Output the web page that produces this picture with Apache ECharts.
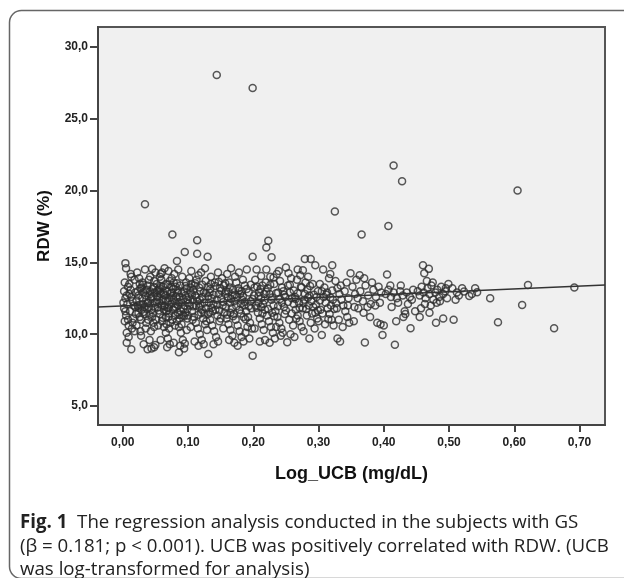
<!DOCTYPE html>
<html>
<head>
<meta charset="utf-8">
<script src="https://cdn.jsdelivr.net/npm/echarts@6/dist/echarts.min.js"></script>
<style>
html,body{margin:0;padding:0;background:#fff;}
#c{width:624px;height:578px;}
</style>
</head>
<body>
<div id="c"></div>
<script>
// Tick values
const xTicks = [0, 0.1, 0.2, 0.3, 0.4, 0.5, 0.6, 0.7];
const yTicks = [5, 10, 15, 20, 25, 30];
const xRange = [-0.038, 0.739];
const yRange = [3.68, 31.39];

// Regression line end points
const fitLine = [[-0.038, 11.90], [0.739, 13.43]];

// Scatter points [Log_UCB, RDW]
const pointsA = [[0.004,14.95],[0.005,14.6],[0.012,14.2],[0.013,14.0],[0.006,10.1],[0.006,9.4],[0.013,8.95],[0.003,13.6],[0.008,13.3],[0.002,13.0],[0.010,12.8],[0.004,12.5],[0.015,12.3],[0.007,12.1],[0.002,11.8],[0.011,11.6],[0.005,11.3],[0.016,11.1],[0.003,10.9],[0.009,10.6],[0.014,10.4],[0.018,13.8],[0.019,12.9],[0.017,12.0],[0.020,11.4],[0.006,12.7],[0.012,13.1],[0.001,12.2],[0.008,11.0],[0.015,10.8],[0.010,13.5],[0.019,11.9],[0.004,11.6],[0.013,12.6],[0.018,10.2],[0.009,9.8]];
const pointsB = [[0.022,14.3],[0.034,14.5],[0.045,14.55],[0.050,14.3],[0.058,14.2],[0.034,19.05],[0.025,13.9],[0.030,13.6],[0.027,13.2],[0.038,13.4],[0.042,13.0],[0.048,13.7],[0.024,12.7],[0.031,12.9],[0.036,12.4],[0.044,12.6],[0.049,12.2],[0.023,12.0],[0.029,11.7],[0.040,11.9],[0.046,11.5],[0.026,11.2],[0.033,11.4],[0.039,11.0],[0.047,10.8],[0.021,10.6],[0.035,10.4],[0.043,10.2],[0.028,9.9],[0.041,9.6],[0.032,9.3],[0.048,9.1],[0.038,8.95],[0.050,9.25],[0.044,9.0],[0.030,12.5],[0.037,13.1],[0.045,11.2],[0.026,13.5],[0.042,12.8],[0.033,11.9],[0.049,12.9],[0.024,11.5],[0.039,12.2],[0.036,10.8],[0.027,10.2],[0.047,13.3],[0.031,12.1],[0.044,11.7],[0.023,13.0],[0.040,13.8],[0.035,12.7],[0.028,11.0],[0.048,10.5],[0.042,14.0]];
const pointsC = [[0.052,13.5],[0.055,13.1],[0.058,12.8],[0.061,12.4],[0.064,12.0],[0.067,11.6],[0.070,11.2],[0.073,10.8],[0.076,16.94],[0.083,15.1],[0.086,8.75],[0.095,15.73],[0.054,11.9],[0.057,11.4],[0.060,10.9],[0.063,10.5],[0.066,10.1],[0.069,9.7],[0.072,9.3],[0.075,13.9],[0.078,13.6],[0.081,13.3],[0.084,12.9],[0.087,12.6],[0.090,12.2],[0.093,11.8],[0.096,11.5],[0.099,11.1],[0.053,12.6],[0.056,12.2],[0.059,13.8],[0.062,13.3],[0.065,12.7],[0.068,13.0],[0.071,12.5],[0.074,12.1],[0.077,11.7],[0.080,11.3],[0.083,10.9],[0.086,10.5],[0.089,10.1],[0.092,9.6],[0.095,9.35],[0.098,10.3],[0.051,11.0],[0.054,10.6],[0.057,14.0],[0.060,14.3],[0.063,11.7],[0.066,13.5],[0.069,12.3],[0.072,13.7],[0.075,12.9],[0.078,12.4],[0.081,11.9],[0.084,11.5],[0.087,11.1],[0.090,10.7],[0.093,13.0],[0.096,12.7],[0.099,12.4],[0.079,14.2],[0.085,14.5],[0.091,14.0],[0.097,13.6],[0.070,14.4],[0.064,14.6],[0.058,9.6],[0.068,9.1],[0.078,9.4],[0.088,9.2],[0.094,9.0],[0.082,12.1],[0.076,11.0],[0.062,12.9],[0.088,13.4],[0.071,10.4],[0.092,11.3],[0.056,13.2],[0.080,10.6],[0.066,11.2],[0.074,13.3],[0.098,13.2],[0.085,12.0],[0.060,12.0],[0.095,12.0],[0.070,11.8],[0.053,12.4],[0.077,12.7],[0.089,11.6],[0.067,10.7]];
const pointsD = [[0.102,13.9],[0.105,13.5],[0.108,13.1],[0.111,12.7],[0.114,12.3],[0.117,11.9],[0.120,11.5],[0.123,11.1],[0.126,10.7],[0.129,10.3],[0.114,16.54],[0.114,15.61],[0.130,15.4],[0.131,8.63],[0.144,28.05],[0.103,12.0],[0.106,11.6],[0.109,11.2],[0.112,10.8],[0.115,10.4],[0.118,10.0],[0.121,9.6],[0.124,9.3],[0.127,13.7],[0.130,13.3],[0.133,12.9],[0.136,12.5],[0.139,12.1],[0.142,11.7],[0.145,11.3],[0.148,10.9],[0.101,12.6],[0.104,12.9],[0.107,12.4],[0.110,13.4],[0.113,13.8],[0.116,14.1],[0.119,13.0],[0.122,12.6],[0.125,12.2],[0.128,11.8],[0.131,11.4],[0.134,11.0],[0.137,10.6],[0.140,10.2],[0.143,9.8],[0.146,9.5],[0.149,13.2],[0.104,10.5],[0.110,9.5],[0.120,14.3],[0.126,14.6],[0.135,14.0],[0.141,13.6],[0.147,12.8],[0.107,11.0],[0.118,12.4],[0.124,12.9],[0.132,12.2],[0.138,11.6],[0.144,12.4],[0.112,12.0],[0.128,10.9],[0.100,11.3],[0.135,13.5],[0.121,11.7],[0.146,14.3],[0.139,9.3],[0.116,9.2],[0.105,14.4]];
const pointsE = [[0.152,13.9],[0.155,13.4],[0.158,13.0],[0.161,12.6],[0.164,12.2],[0.167,11.8],[0.170,11.4],[0.173,11.0],[0.176,10.6],[0.179,10.2],[0.182,9.8],[0.185,9.5],[0.199,15.4],[0.199,8.51],[0.199,27.14],[0.190,14.5],[0.153,12.0],[0.156,11.5],[0.159,11.1],[0.162,10.7],[0.165,10.3],[0.168,9.9],[0.171,9.4],[0.174,13.6],[0.177,13.2],[0.180,12.8],[0.183,12.4],[0.186,12.0],[0.189,11.6],[0.192,11.2],[0.195,10.8],[0.198,10.4],[0.151,12.5],[0.157,12.8],[0.163,13.6],[0.169,13.1],[0.175,12.6],[0.181,12.1],[0.187,13.4],[0.193,12.9],[0.196,12.3],[0.160,14.2],[0.166,14.6],[0.172,14.0],[0.178,14.3],[0.184,13.8],[0.154,10.4],[0.163,9.6],[0.176,9.2],[0.188,10.1],[0.194,9.7],[0.158,11.9],[0.171,12.3],[0.185,11.2],[0.197,11.8],[0.165,11.5],[0.179,11.7],[0.191,10.5],[0.150,11.1],[0.168,12.7],[0.182,13.0]];
const pointsF = [[0.203,13.8],[0.206,13.3],[0.209,12.9],[0.212,12.5],[0.215,12.1],[0.218,11.7],[0.221,11.3],[0.224,10.9],[0.227,10.5],[0.230,10.1],[0.233,9.7],[0.220,16.03],[0.223,16.5],[0.228,15.36],[0.205,14.5],[0.220,14.5],[0.210,9.5],[0.218,9.6],[0.204,12.0],[0.207,11.5],[0.210,11.1],[0.213,10.7],[0.216,10.3],[0.219,13.6],[0.222,13.2],[0.225,12.8],[0.228,12.4],[0.231,12.0],[0.234,11.6],[0.237,11.2],[0.240,10.8],[0.243,10.4],[0.246,13.0],[0.249,12.6],[0.201,12.7],[0.208,12.2],[0.214,13.4],[0.226,14.0],[0.232,13.5],[0.238,12.9],[0.244,12.2],[0.236,14.2],[0.241,13.7],[0.247,11.9],[0.212,11.9],[0.229,11.5],[0.235,10.5],[0.242,9.9],[0.248,11.4],[0.217,12.8],[0.202,10.4],[0.225,9.4],[0.239,14.4],[0.245,10.1]];
const pointsG = [[0.250,14.64],[0.268,14.5],[0.279,15.24],[0.288,15.24],[0.295,14.8],[0.252,9.45],[0.286,9.7],[0.253,13.4],[0.256,12.9],[0.259,12.5],[0.262,12.1],[0.265,11.7],[0.268,11.3],[0.271,10.9],[0.274,10.5],[0.277,10.2],[0.280,13.6],[0.283,13.1],[0.286,12.7],[0.289,12.3],[0.292,11.9],[0.295,11.5],[0.298,11.1],[0.255,11.0],[0.261,10.6],[0.267,13.8],[0.273,13.3],[0.279,12.8],[0.285,12.0],[0.291,13.5],[0.297,12.6],[0.258,13.9],[0.264,12.6],[0.270,12.2],[0.276,11.8],[0.282,11.3],[0.288,10.8],[0.294,10.4],[0.257,10.0],[0.272,14.1],[0.284,14.0],[0.263,9.8],[0.299,13.0],[0.266,11.1],[0.278,12.4]];
const pointsH = [[0.305,9.95],[0.329,9.7],[0.333,9.5],[0.307,14.5],[0.321,14.8],[0.325,18.54],[0.349,14.25],[0.302,13.5],[0.305,13.0],[0.308,12.6],[0.311,12.2],[0.314,11.8],[0.317,11.4],[0.320,11.0],[0.323,10.6],[0.326,13.7],[0.329,13.2],[0.332,12.8],[0.335,12.4],[0.338,12.0],[0.341,11.6],[0.344,11.2],[0.347,10.8],[0.310,10.7],[0.316,13.9],[0.322,12.4],[0.328,11.8],[0.334,13.4],[0.340,13.0],[0.346,12.5],[0.313,12.9],[0.319,12.0],[0.337,10.5],[0.343,13.6],[0.303,11.7],[0.331,11.0],[0.318,14.2],[0.300,10.9],[0.345,12.0]];
const pointsI = [[0.361,11.8],[0.369,11.5],[0.371,9.42],[0.366,16.94],[0.398,9.95],[0.390,10.8],[0.400,10.6],[0.395,10.7],[0.352,13.3],[0.356,12.8],[0.360,12.5],[0.364,13.0],[0.368,12.3],[0.372,13.4],[0.376,12.7],[0.380,12.1],[0.384,13.1],[0.388,12.6],[0.392,13.3],[0.396,12.9],[0.355,11.9],[0.358,13.8],[0.375,11.9],[0.382,13.6],[0.387,12.0],[0.363,14.1],[0.354,10.9],[0.379,11.2],[0.394,12.2],[0.370,13.9]];
const pointsJ = [[0.405,14.15],[0.407,17.54],[0.415,21.74],[0.428,20.65],[0.417,9.26],[0.441,10.42],[0.419,10.9],[0.430,11.2],[0.433,11.4],[0.432,11.6],[0.403,12.8],[0.407,13.1],[0.411,12.6],[0.415,12.9],[0.420,12.5],[0.425,13.0],[0.429,12.7],[0.435,12.9],[0.440,12.6],[0.445,13.1],[0.410,13.4],[0.422,12.2],[0.437,12.1],[0.443,12.4],[0.412,11.9],[0.448,11.6],[0.426,13.4]];
const pointsK = [[0.460,14.8],[0.462,14.25],[0.469,14.55],[0.480,10.8],[0.491,11.1],[0.499,13.5],[0.452,13.0],[0.455,12.7],[0.458,13.3],[0.461,12.9],[0.464,12.5],[0.467,13.2],[0.470,12.8],[0.473,13.4],[0.476,12.4],[0.479,12.9],[0.482,13.1],[0.485,12.6],[0.488,13.3],[0.491,12.8],[0.494,13.0],[0.497,12.5],[0.463,12.1],[0.472,12.0],[0.481,12.2],[0.457,11.8],[0.486,12.3],[0.466,13.7],[0.475,13.6],[0.495,13.2],[0.455,11.2],[0.470,11.5]];
const pointsL = [[0.507,11.0],[0.505,13.2],[0.512,12.9],[0.515,12.7],[0.520,13.2],[0.523,12.97],[0.531,12.67],[0.540,13.2],[0.543,12.92],[0.563,12.5],[0.575,10.84],[0.605,20.0],[0.612,12.04],[0.621,13.43],[0.661,10.42],[0.692,13.25],[0.510,12.4],[0.535,12.8]];
// Dense core of the cloud
const pointsM = [[0.021,12.35],[0.026,12.05],[0.029,13.25],[0.032,11.55],[0.035,13.05],[0.038,12.15],[0.041,11.35],[0.043,12.45],[0.046,13.15],[0.049,11.85],[0.052,12.25],[0.055,11.65],[0.058,13.35],[0.061,11.15],[0.063,12.75],[0.066,12.35],[0.069,13.45],[0.071,11.45],[0.074,12.55],[0.077,13.15],[0.079,11.85],[0.082,12.65],[0.085,13.05],[0.087,11.35],[0.090,12.85],[0.093,12.45],[0.096,13.35],[0.099,11.75],[0.024,11.85],[0.037,11.75],[0.053,13.05],[0.064,11.95],[0.073,12.85],[0.086,12.25],[0.094,11.25],[0.057,12.95],[0.068,11.85],[0.083,13.55],[0.047,12.65],[0.031,13.45]];
const pointsN = [[0.101,12.15],[0.104,13.25],[0.108,11.95],[0.111,13.55],[0.113,12.55],[0.117,13.25],[0.119,12.05],[0.122,13.45],[0.125,11.45],[0.127,12.85],[0.131,12.65],[0.134,13.15],[0.136,11.85],[0.139,12.75],[0.142,13.35],[0.145,12.05],[0.148,11.65],[0.151,13.05],[0.154,12.25],[0.157,13.55],[0.160,11.35],[0.162,12.95],[0.166,12.45],[0.169,11.25],[0.172,12.75],[0.174,11.95],[0.178,13.05],[0.181,11.45],[0.184,12.65],[0.187,12.25],[0.190,13.15],[0.193,11.95],[0.196,13.45],[0.199,12.45],[0.106,12.75],[0.116,11.35],[0.133,11.55],[0.147,13.65],[0.164,13.25],[0.188,11.05]];
const pointsO = [[0.202,13.25],[0.205,11.85],[0.208,12.65],[0.211,13.15],[0.214,11.45],[0.217,12.35],[0.220,12.95],[0.223,11.75],[0.226,13.45],[0.229,12.55],[0.232,11.25],[0.235,12.85],[0.238,11.95],[0.241,12.45],[0.244,13.25],[0.247,12.75],[0.250,11.65],[0.253,12.25],[0.256,13.45],[0.259,11.45],[0.262,13.05],[0.265,12.45],[0.268,12.85],[0.271,11.85],[0.274,13.25],[0.277,12.15],[0.281,11.75],[0.284,12.55],[0.287,13.35],[0.290,11.45],[0.293,12.75],[0.296,12.05],[0.299,11.65],[0.302,12.35],[0.306,11.45],[0.309,13.25],[0.312,12.75],[0.315,11.05],[0.318,12.55],[0.321,13.05],[0.324,11.75],[0.327,12.15],[0.212,14.05],[0.254,14.25],[0.231,13.95],[0.276,14.45]];

const points = [].concat(pointsA, pointsB, pointsC, pointsD, pointsE, pointsF,
  pointsG, pointsH, pointsI, pointsJ, pointsK, pointsL, pointsM, pointsN, pointsO);

const xName = 'Log_UCB (mg/dL)';
const yName = 'RDW (%)';
const caption1 = '{b|Fig. 1}  The regression analysis conducted in the subjects with GS';
const caption2 = '(β = 0.181; p < 0.001). UCB was positively correlated with RDW. (UCB';
const caption3 = 'was log-transformed for analysis)';

const axisFont = "'Liberation Sans', Arial, sans-serif";
const capFont = "'Open Sans', 'Noto Sans', sans-serif";
const capSize = 18.7;

const chart = echarts.init(document.getElementById('c'), null, {renderer: 'canvas'});
chart.setOption({
  animation: false,
  backgroundColor: '#ffffff',
  grid: {
    left: 98, right: 19, top: 27, bottom: 153,
    show: true, backgroundColor: '#f0f0f0', borderColor: '#555', borderWidth: 2
  },
  xAxis: {
    type: 'value', min: xRange[0], max: xRange[1],
    name: xName, nameLocation: 'middle', nameGap: 40,
    nameTextStyle: {fontFamily: axisFont, fontWeight: 'bold', fontSize: 18, color: '#111'},
    axisLine: {show: true, onZero: false, lineStyle: {color: '#444', width: 2}},
    axisTick: {show: true, length: 7, lineStyle: {color: '#444', width: 2}, customValues: xTicks},
    axisLabel: {
      customValues: xTicks, margin: 12,
      fontFamily: axisFont, fontWeight: 'bold', fontSize: 12, color: '#222',
      formatter: v => v.toFixed(2).replace('.', ',')
    },
    splitLine: {show: false}
  },
  yAxis: {
    type: 'value', min: yRange[0], max: yRange[1],
    name: yName, nameLocation: 'middle', nameGap: 45, nameRotate: 90,
    nameTextStyle: {fontFamily: axisFont, fontWeight: 'bold', fontSize: 17, color: '#111'},
    axisLine: {show: true, onZero: false, lineStyle: {color: '#444', width: 2}},
    axisTick: {show: true, length: 8, lineStyle: {color: '#444', width: 2}, customValues: yTicks},
    axisLabel: {
      customValues: yTicks, margin: 10,
      fontFamily: axisFont, fontWeight: 'bold', fontSize: 12, color: '#222',
      formatter: v => v.toFixed(1).replace('.', ',')
    },
    splitLine: {show: false}
  },
  series: [
    {
      type: 'scatter', data: points, symbol: 'circle', symbolSize: 7,
      itemStyle: {color: 'rgba(0,0,0,0)', borderColor: '#2e2e2e', borderWidth: 1.5},
      silent: true, z: 2
    },
    {
      type: 'line', data: fitLine, symbol: 'none',
      lineStyle: {color: '#333', width: 1.4}, silent: true, z: 3
    }
  ],
  graphic: [
    {
      type: 'rect', left: 7, top: 8, silent: true,
      shape: {width: 640, height: 568, r: 12},
      style: {fill: 'none', stroke: '#666', lineWidth: 1.5}
    },
    {
      type: 'text', left: 20, top: 513, silent: true,
      style: {text: caption1, font: capSize + 'px ' + capFont, fill: '#222',
        rich: {b: {fontWeight: 'bold', fontSize: capSize, fontFamily: capFont, fill: '#222'}}}
    },
    {
      type: 'text', left: 20, top: 537, silent: true,
      style: {text: caption2, font: capSize + 'px ' + capFont, fill: '#222'}
    },
    {
      type: 'text', left: 20, top: 560, silent: true,
      style: {text: caption3, font: capSize + 'px ' + capFont, fill: '#222'}
    }
  ]
});
</script>
</body>
</html>
